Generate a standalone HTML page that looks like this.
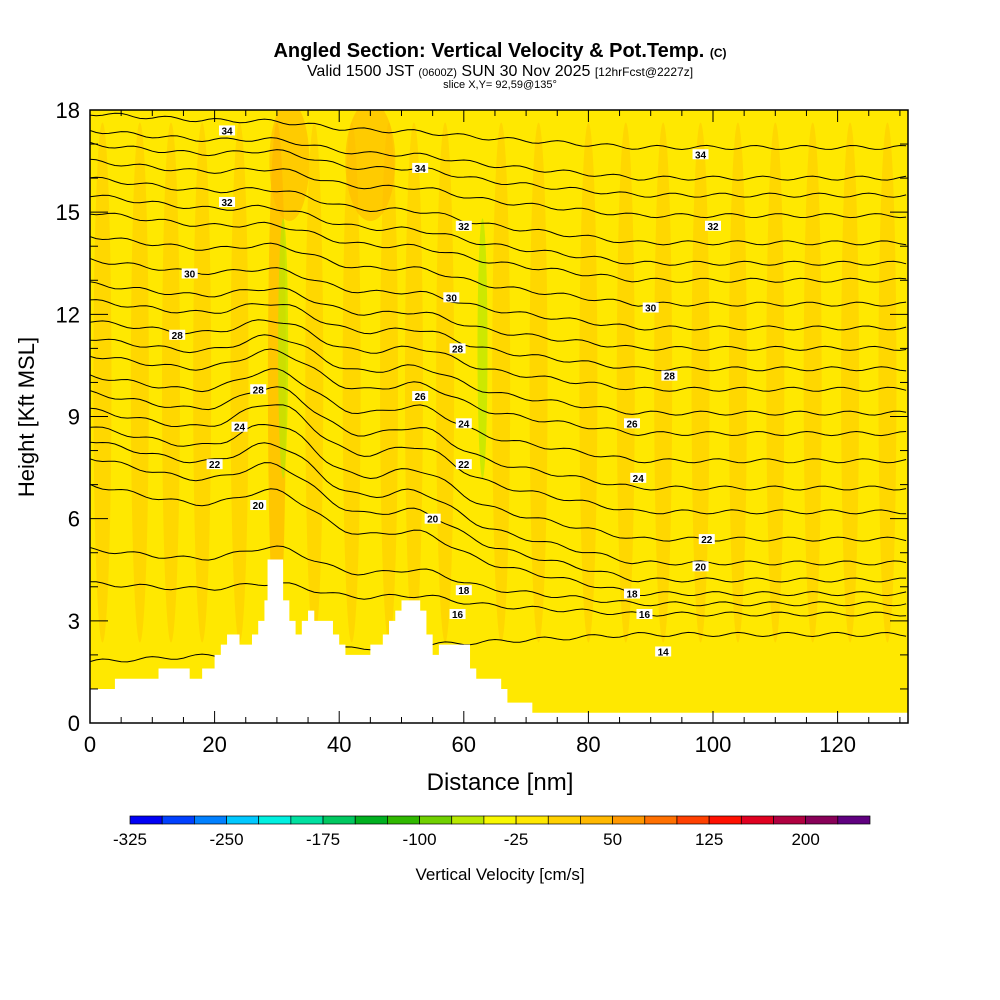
<!DOCTYPE html>
<html><head><meta charset="utf-8">
<style>
body{margin:0;background:#fff;width:1000px;height:1000px;overflow:hidden;font-family:"Liberation Sans",sans-serif}
svg{position:absolute;left:0;top:0}
</style></head>
<body>
<svg id="chart" width="1000" height="1000">
<defs><clipPath id="pc"><rect x="90" y="110" width="818" height="613"/></clipPath></defs>
<text x="500" y="57" text-anchor="middle" font-size="20" font-weight="bold">Angled Section: Vertical Velocity &amp; Pot.Temp. <tspan font-size="12">(C)</tspan></text>
<text x="500" y="76" text-anchor="middle" font-size="16">Valid 1500 JST <tspan font-size="11">(0600Z)</tspan> SUN 30 Nov 2025 <tspan font-size="12">[12hrFcst@2227z]</tspan></text>
<text x="500" y="88" text-anchor="middle" font-size="11">slice X,Y= 92,59@135°</text>
<g id="plot" clip-path="url(#pc)"></g>
<g id="axes"></g>
<text x="500" y="790" text-anchor="middle" font-size="24">Distance [nm]</text>
<text transform="translate(34,417) rotate(-90)" text-anchor="middle" font-size="22">Height [Kft MSL]</text>
<text x="500" y="880" text-anchor="middle" font-size="17">Vertical Velocity [cm/s]</text>
</svg>
<script>
const xTicks=[0,20,40,60,80,100,120];
const yTicks=[0,3,6,9,12,15,18];
const cbColors=["#0000f5","#0040ff","#0080ff","#00c8ff","#00f0e0","#00e0a0","#00c860","#00b020","#30b800","#70d000","#b8e800","#f8f800","#ffe800","#ffd000","#ffb800","#ff9800","#ff7000","#ff4000","#ff1000","#e00020","#b00040","#880058","#600080"];
const cbLabels=[-325,-250,-175,-100,-25,50,125,200];
// terrain steps: start distance (nm) and height (kft)
const stepX=[0,4,11,16,18,20,21,22,24,26,27,28,28.5,31,32,33,34,35,36,39,40,41,42,45,47,48,49,50,53,54,55,56,57,61,62,66,67,71];
const stepH=[1.0,1.3,1.6,1.3,1.6,2.0,2.3,2.6,2.3,2.6,3.0,3.6,4.8,3.6,3.0,2.6,3.0,3.3,3.0,2.6,2.3,2.0,2.0,2.3,2.6,3.0,3.3,3.6,3.3,2.6,2.0,2.3,2.3,1.6,1.3,1.0,0.6,0.3];
const contourLeft=[1.8,4.1,5.1,7.0,7.8,8.3,8.7,9.2,9.7,10.2,10.8,11.3,11.8,12.4,12.9,13.6,14.3,15.0,15.5,16.0,16.5,17.0,17.4,17.9];
const contourRight=[2.6,3.2,3.5,3.8,4.2,4.7,5.4,6.2,6.9,7.7,8.5,9.1,9.8,10.4,11.0,11.6,12.3,13.0,13.5,14.1,14.9,15.5,16.0,16.9];
const contourBump=[0,0.3,0.6,0.9,1.0,1.1,1.2,1.2,1.1,1.0,0.9,0.8,0.7,0.6,0.5,0.4,0.4,0.3,0.3,0.3,0.3,0.3,0.2,0.1];
const labels=[[27,6.4,"20"],[20,7.6,"22"],[24,8.7,"24"],[27,9.8,"28"],[14,11.4,"28"],[16,13.2,"30"],[22,15.3,"32"],[22,17.4,"34"],[55,6.0,"20"],[60,7.6,"22"],[60,8.8,"24"],[53,9.6,"26"],[59,11.0,"28"],[58,12.5,"30"],[60,14.6,"32"],[53,16.3,"34"],[60,3.9,"18"],[59,3.2,"16"],[92,2.1,"14"],[89,3.2,"16"],[87,3.8,"18"],[98,4.6,"20"],[99,5.4,"22"],[88,7.2,"24"],[87,8.8,"26"],[93,10.2,"28"],[90,12.2,"30"],[100,14.6,"32"],[98,16.7,"34"]];
const X=v=>90+v*(818/131.3), Y=v=>723-v*(613/18);
const NS="http://www.w3.org/2000/svg";
const plot=document.getElementById('plot');
const axes=document.getElementById('axes');
const svg=document.getElementById('chart');
function mk(t,a,p){const e=document.createElementNS(NS,t);for(const k in a)e.setAttribute(k,a[k]);(p||plot).appendChild(e);return e;}
let e=mk('rect',{x:90,y:110,width:818,height:613,fill:"#ffe800"});


const streakX=[2,8,13,18,24,30,31,36,42,48,52,57,63,66,72,80,86,92,98,104,110,116,122,128];
const streakCol=["#ffd000","#ffd000","#ffd000","#ffd000","#ffd000","#ffb800","#b8e800","#ffd000","#ffd000","#ffd000","#ffd000","#ffd000","#b8e800","#ffd000","#ffd000","#ffd000","#ffd000","#ffd000","#ffd000","#ffd000","#ffd000","#ffd000","#ffd000","#ffd000"];
streakX.forEach((s,i)=>{const g=streakCol[i]=="#b8e800";e=mk('ellipse',{cx:X(s),cy:Y(g?11:10),rx:g?5:9,ry:g?130:260,fill:streakCol[i],opacity:0.7});

});
mk('ellipse',{cx:X(45),cy:Y(16.5),rx:25,ry:60,fill:"#ffb800",opacity:0.6});
mk('ellipse',{cx:X(32),cy:Y(16.5),rx:20,ry:60,fill:"#ffb800",opacity:0.6});
function prof(x){return Math.exp(-Math.pow((x-30)/8,2))+0.6*Math.exp(-Math.pow((x-53)/7,2));}
contourLeft.forEach((l,i)=>{let pts=[];for(let x=0;x<=131.5;x+=1){let t=x/131.3;let h=l+(contourRight[i]-l)*Math.min(1,t*1.5)+contourBump[i]*prof(x)+0.06*Math.sin(x*0.8+i);pts.push(X(x).toFixed(1)+","+Y(h).toFixed(1));}
e=mk('polyline',{points:pts.join(" "),fill:"none",stroke:"#000","stroke-width":1});

});
let tp=[];stepX.forEach((x,i)=>{const xe=i+1<stepX.length?stepX[i+1]:131.3;tp.push(X(x)+","+Y(stepH[i]));tp.push(X(xe)+","+Y(stepH[i]));});
tp.push(X(131.3)+","+Y(0));tp.push(X(0)+","+Y(0));
e=mk('polygon',{points:tp.join(" "),fill:"#fff"});


labels.forEach(l=>{const g=mk('g',{});
mk('rect',{x:X(l[0])-8,y:Y(l[1])-5,width:16,height:10,fill:"#fff"},g);
const t=mk('text',{x:X(l[0]),y:Y(l[1])+4,"text-anchor":"middle","font-size":10,"font-weight":"bold"},g);t.textContent=l[2];});
e=mk('rect',{x:90,y:110,width:818,height:613,fill:"none",stroke:"#000","stroke-width":1.5},axes);


for(let v=0;v<=130;v+=5){const L=v%20==0?12:6;mk('line',{x1:X(v),x2:X(v),y1:723,y2:723-L,stroke:"#000"},axes);mk('line',{x1:X(v),x2:X(v),y1:110,y2:110+L,stroke:"#000"},axes);}
for(let v=0;v<=18;v++){const L=v%3==0?18:8;mk('line',{x1:90,x2:90+L,y1:Y(v),y2:Y(v),stroke:"#000"},axes);mk('line',{x1:908,x2:908-L,y1:Y(v),y2:Y(v),stroke:"#000"},axes);}
xTicks.forEach(v=>{const t=mk('text',{x:X(v),y:752,"text-anchor":"middle","font-size":22},axes);t.textContent=v;

});
yTicks.forEach(v=>{const t=mk('text',{x:80,y:Y(v)+8,"text-anchor":"end","font-size":22},axes);t.textContent=v;

});
const cw=740/cbColors.length;
cbColors.forEach((c,i)=>{e=mk('rect',{x:130+i*cw,y:816,width:cw,height:8,fill:c,stroke:"#000","stroke-width":0.7},svg);

});
cbLabels.forEach(v=>{const t=mk('text',{x:130+(v+325)/25*cw,y:845,"text-anchor":"middle","font-size":17},svg);t.textContent=v;

});
</script>
</body></html>
